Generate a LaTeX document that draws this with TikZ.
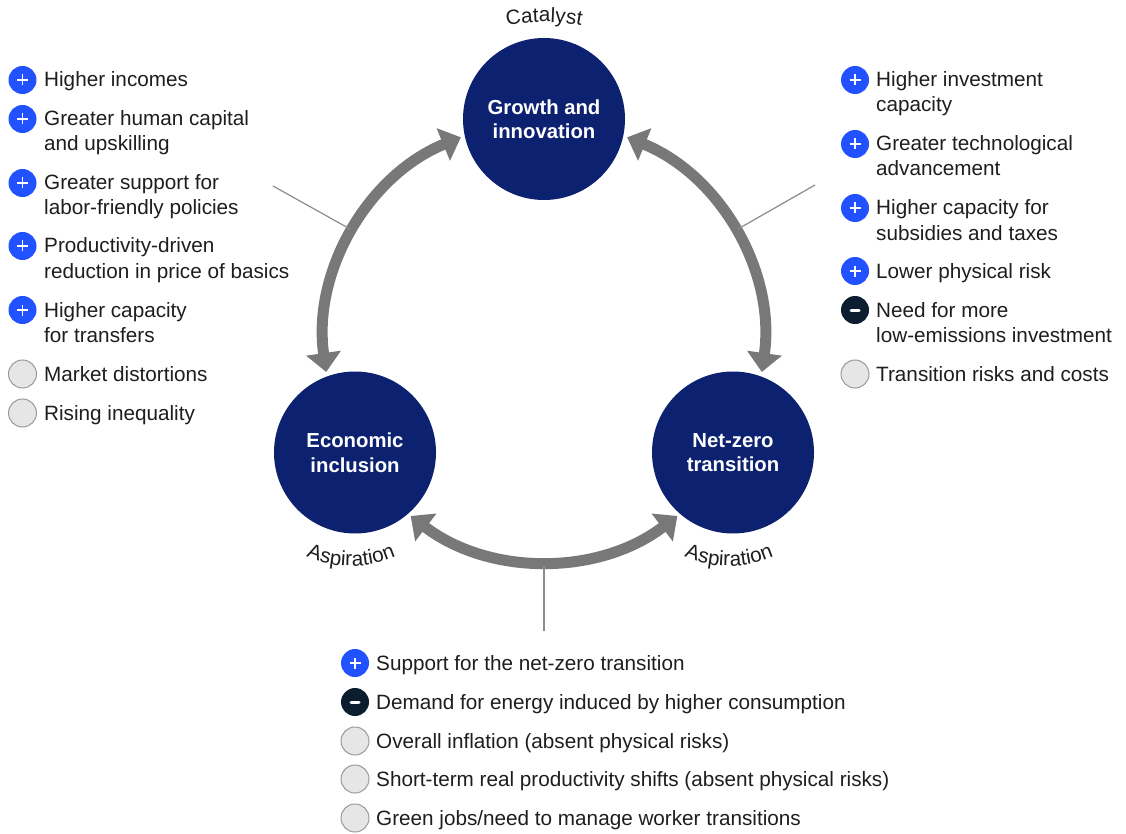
\documentclass[tikz,border=0pt]{standalone}
\usepackage{fontspec}
\setmainfont{Liberation Sans}
\usetikzlibrary{arrows.meta,decorations.text}
\definecolor{navy}{HTML}{0C216F}
\definecolor{iconblue}{HTML}{2251FF}
\definecolor{icondark}{HTML}{0B1D2E}
\definecolor{iconfill}{HTML}{E6E6E6}
\definecolor{iconline}{HTML}{9A9A9A}
\definecolor{arrowgray}{HTML}{787878}
\definecolor{linegray}{HTML}{8C8C8C}
\definecolor{txt}{HTML}{1E1E1E}
\newcommand\itemfont{\fontsize{20.7pt}{25pt}\selectfont}
\newcommand\hubfont{\fontsize{20.3pt}{24.5pt}\selectfont\bfseries}
\newcommand\twol[2]{\vtop{\hbox{#1}\hbox{#2}}}
\begin{document}
\begin{tikzpicture}[x=1pt,y=-1pt,
  hub/.style={circle, fill=navy, minimum size=162pt, inner sep=0pt, text=white, font=\hubfont, align=center},
  item/.style={anchor=base west, inner sep=0pt, font=\itemfont, text=txt},
  icon/.style={circle, minimum size=28pt, inner sep=0pt},
  plusic/.style={icon, fill=iconblue, path picture={\draw[white, line width=1.6pt] ([xshift=-5.5pt]path picture bounding box.center) -- ([xshift=5.5pt]path picture bounding box.center) ([yshift=-5.5pt]path picture bounding box.center) -- ([yshift=5.5pt]path picture bounding box.center);}},
  minusic/.style={icon, fill=icondark, path picture={\draw[white, line width=3pt, line cap=round] ([xshift=-4pt]path picture bounding box.center) -- ([xshift=4pt]path picture bounding box.center);}},
  grayic/.style={icon, fill=iconfill, draw=iconline, line width=1pt},
  bigarrow/.style={draw=arrowgray, line width=11pt, arrows={Triangle[width=34pt,length=19pt]-Triangle[width=34pt,length=19pt]}},
  connector/.style={draw=linegray, line width=1.2pt},
  curvelabel/.style={decorate, decoration={text along path, text={|\itemfont|#1}, text align=center, text color=txt}},
]
\fill[white] (0,0) rectangle (1126,834);
\useasboundingbox (0,0) rectangle (1126,834);

% hubs
\node[hub] (growth) at (544,119) {Growth and\\innovation};
\node[hub] (incl) at (355,452.5) {Economic\\inclusion};
\node[hub] (netz) at (733,452.5) {Net-zero\\transition};

% cycle arrows
\coordinate (C) at (544,341);
\draw[bigarrow] ([shift={(247.8:220)}]C) arc[start angle=247.8, end angle=171.9, radius=220];
\draw[bigarrow] ([shift={(292.2:220)}]C) arc[start angle=292.2, end angle=368.1, radius=220];
\draw[bigarrow] ([shift={(127.3:220)}]C) arc[start angle=127.3, end angle=52.7, radius=220];

% curved labels
\coordinate (cat) at (544,222);
\path[curvelabel=Catalyst] ([shift={(250:200)}]cat) arc[start angle=250, end angle=290, radius=200];
\coordinate (asL) at (351,453);
\path[curvelabel=Aspiration] ([shift={(120:113)}]asL) arc[start angle=120, end angle=60, radius=113];
\coordinate (asR) at (729,453);
\path[curvelabel=Aspiration] ([shift={(120:113)}]asR) arc[start angle=120, end angle=60, radius=113];

% connector lines
\coordinate (lA) at (273,186);
\coordinate (lB) at ([shift={(210:224)}]C);
\coordinate (rA) at (815,185);
\coordinate (rB) at ([shift={(330:224)}]C);
\coordinate (bA) at (544,631);
\coordinate (bB) at ([shift={(90:225)}]C);
\draw[connector] (lA) -- (lB);
\draw[connector] (rA) -- (rB);
\draw[connector] (bA) -- (bB);

% left list
\node[plusic] (l1i) at (22.5,80) {};
\node[item] (l1) at (44,87) {Higher incomes};
\node[plusic] (l2i) at (22.5,119) {};
\node[item] (l2) at (44,126) {\twol{Greater human capital}{and upskilling}};
\node[plusic] (l3i) at (22.5,183) {};
\node[item] (l3) at (44,190) {\twol{Greater support for}{labor-friendly policies}};
\node[plusic] (l4i) at (22.5,246) {};
\node[item] (l4) at (44,253) {\twol{Productivity-driven}{reduction in price of basics}};
\node[plusic] (l5i) at (22.5,310) {};
\node[item] (l5) at (44,317) {\twol{Higher capacity}{for transfers}};
\node[grayic] (l6i) at (22.5,374) {};
\node[item] (l6) at (44,381) {Market distortions};
\node[grayic] (l7i) at (22.5,413) {};
\node[item] (l7) at (44,420) {Rising inequality};

% right list
\node[plusic] (r1i) at (855,80) {};
\node[item] (r1) at (876,87) {\twol{Higher investment}{capacity}};
\node[plusic] (r2i) at (855,144) {};
\node[item] (r2) at (876,151) {\twol{Greater technological}{advancement}};
\node[plusic] (r3i) at (855,208) {};
\node[item] (r3) at (876,215) {\twol{Higher capacity for}{subsidies and taxes}};
\node[plusic] (r4i) at (855,271) {};
\node[item] (r4) at (876,278) {Lower physical risk};
\node[minusic] (r5i) at (855,310) {};
\node[item] (r5) at (876,317) {\twol{Need for more}{low-emissions investment}};
\node[grayic] (r6i) at (855,374) {};
\node[item] (r6) at (876,381) {Transition risks and costs};

% bottom list
\node[plusic] (b1i) at (355,663) {};
\node[item] (b1) at (376,670) {Support for the net-zero transition};
\node[minusic] (b2i) at (355,702) {};
\node[item] (b2) at (376,709) {Demand for energy induced by higher consumption};
\node[grayic] (b3i) at (355,741) {};
\node[item] (b3) at (376,748) {Overall inflation (absent physical risks)};
\node[grayic] (b4i) at (355,779) {};
\node[item] (b4) at (376,786) {Short-term real productivity shifts (absent physical risks)};
\node[grayic] (b5i) at (355,818) {};
\node[item] (b5) at (376,825) {Green jobs/need to manage worker transitions};
\end{tikzpicture}
\end{document}
